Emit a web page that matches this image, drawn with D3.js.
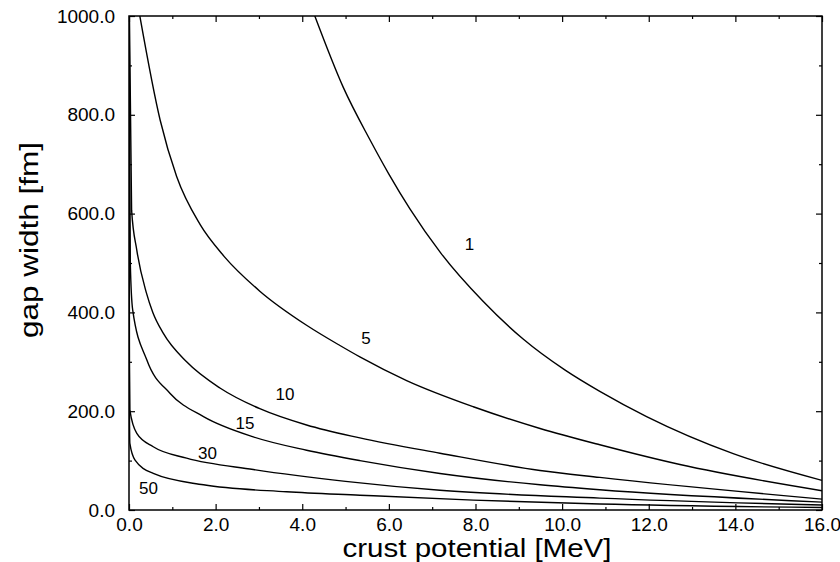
<!DOCTYPE html>
<html>
<head>
<meta charset="utf-8">
<script src="https://cdn.jsdelivr.net/npm/d3@7"></script>
<style>
  body { margin: 0; background: #fff; }
  svg { display: block; font-family: "Liberation Sans", Arial, Helvetica, sans-serif; }
  .axis path { display: none; }
  .axis line { stroke: #000; stroke-width: 1.2; }
  .axis text { font-size: 19px; fill: #000; }
  .curve { fill: none; stroke: #000; stroke-width: 1.4; }
  .lbl { font-size: 17px; fill: #000; text-anchor: middle; }
</style>
</head>
<body>
<div id="chart"></div>
<script>
// curve parameter values (labels)
var curveNames = ['1', '5', '10', '15', '30', '50'];

// [crust potential MeV, gap width fm]
var curve1 = [[4.29, 1000], [4.95, 855], [5.56, 750], [6.0, 680], [6.49, 609], [7.2, 520], [8.18, 422],
  [9.1, 346], [10.07, 283], [10.87, 240], [11.95, 189], [13.95, 114], [16.0, 60]];
var curve5 = [[0.25, 1000], [0.72, 789], [1.1, 675], [1.64, 578], [2.2, 513], [3.02, 443], [4.1, 374],
  [4.87, 333], [5.33, 310], [6.41, 262], [7.95, 209], [9.49, 165], [10.87, 132], [12.72, 92], [16.0, 39]];
var curve10 = [[0.01, 1000], [0.06, 607], [0.18, 526], [0.4, 440], [0.55, 400], [0.79, 358], [1.33, 300],
  [2.1, 247], [3.02, 205], [4.1, 172], [5.33, 146], [7.18, 115], [9.49, 80], [10.87, 66], [16.0, 22]];
var curve15 = [[0.004, 1000], [0.03, 500], [0.085, 405], [0.41, 304], [0.95, 236], [1.72, 189], [2.87, 148],
  [4.1, 121], [5.33, 100], [7.18, 74], [9.49, 51], [10.87, 41], [16.0, 16]];
var curve30 = [[0.002, 1000], [0.01, 300], [0.02, 202], [0.18, 155], [0.56, 128], [1.33, 105], [2.87, 82],
  [5.0, 58], [7.18, 40], [10.87, 24], [16.0, 10]];
var curve50 = [[0.001, 1000], [0.002, 600], [0.01, 200], [0.02, 135], [0.14, 101], [0.56, 74], [1.72, 51],
  [3.64, 37], [5.33, 30], [7.95, 20], [10.87, 12], [16.0, 5]];

// label anchor positions in data units
var labelPos = [[7.86, 538], [5.47, 349], [3.60, 235], [2.68, 176], [1.81, 115], [0.45, 44]];

var xTicks = [0, 2, 4, 6, 8, 10, 12, 14, 16];
var xMinor = [1, 3, 5, 7, 9, 11, 13, 15];
var yTicks = [0, 200, 400, 600, 800, 1000];
var yMinor = [100, 300, 500, 700, 900];

var curves = [curve1, curve5, curve10, curve15, curve30, curve50];

var margin = { top: 16, right: 18, bottom: 52, left: 129 },
    width = 840 - margin.left - margin.right,
    height = 562 - margin.top - margin.bottom;

var svg = d3.select('#chart').append('svg').attr('width', 840).attr('height', 562);
var g = svg.append('g').attr('transform', 'translate(' + margin.left + ',' + margin.top + ')');

var x = d3.scaleLinear().domain([0, 16]).range([0, width]);
var y = d3.scaleLinear().domain([0, 1000]).range([height, 0]);
var fmt = d3.format('.1f');

g.append('defs').append('clipPath').attr('id', 'clip')
  .append('rect').attr('width', width).attr('height', height);

// major + minor ticks on all four sides, pointing inward
g.append('g').attr('class', 'axis').attr('transform', 'translate(0,' + height + ')')
  .call(d3.axisBottom(x).tickValues(xTicks).tickSize(-6).tickPadding(8).tickFormat(fmt));
g.append('g').attr('class', 'axis').attr('transform', 'translate(0,' + height + ')')
  .call(d3.axisBottom(x).tickValues(xMinor).tickSize(-3).tickFormat(''));
g.append('g').attr('class', 'axis')
  .call(d3.axisTop(x).tickValues(xTicks).tickSize(-6).tickFormat(''));
g.append('g').attr('class', 'axis')
  .call(d3.axisTop(x).tickValues(xMinor).tickSize(-3).tickFormat(''));

g.append('g').attr('class', 'axis')
  .call(d3.axisLeft(y).tickValues(yTicks).tickSize(-6).tickPadding(14).tickFormat(fmt));
g.append('g').attr('class', 'axis')
  .call(d3.axisLeft(y).tickValues(yMinor).tickSize(-3).tickFormat(''));
g.append('g').attr('class', 'axis').attr('transform', 'translate(' + width + ',0)')
  .call(d3.axisRight(y).tickValues(yTicks).tickSize(-6).tickFormat(''));
g.append('g').attr('class', 'axis').attr('transform', 'translate(' + width + ',0)')
  .call(d3.axisRight(y).tickValues(yMinor).tickSize(-3).tickFormat(''));

g.append('rect').attr('width', width).attr('height', height)
  .attr('fill', 'none').attr('stroke', '#000').attr('stroke-width', 1.5);

var line = d3.line()
  .x(function (d) { return x(d[0]); })
  .y(function (d) { return y(d[1]); })
  .curve(d3.curveMonotoneX);

g.append('g').attr('clip-path', 'url(#clip)').selectAll('path')
  .data(curves).enter().append('path')
  .attr('class', 'curve')
  .attr('d', line);

g.selectAll('text.lbl').data(curveNames).enter().append('text')
  .attr('class', 'lbl')
  .attr('x', function (d, i) { return x(labelPos[i][0]); })
  .attr('y', function (d, i) { return y(labelPos[i][1]); })
  .attr('dy', '0.35em')
  .text(function (d) { return d; });

// axis titles
svg.append('text')
  .attr('x', 477).attr('y', 557)
  .attr('text-anchor', 'middle')
  .attr('font-size', 25)
  .attr('textLength', 269).attr('lengthAdjust', 'spacingAndGlyphs')
  .text('crust potential [MeV]');

svg.append('text')
  .attr('transform', 'translate(38,240) rotate(-90)')
  .attr('text-anchor', 'middle')
  .attr('font-size', 25)
  .attr('textLength', 196).attr('lengthAdjust', 'spacingAndGlyphs')
  .text('gap width [fm]');
</script>
</body>
</html>
